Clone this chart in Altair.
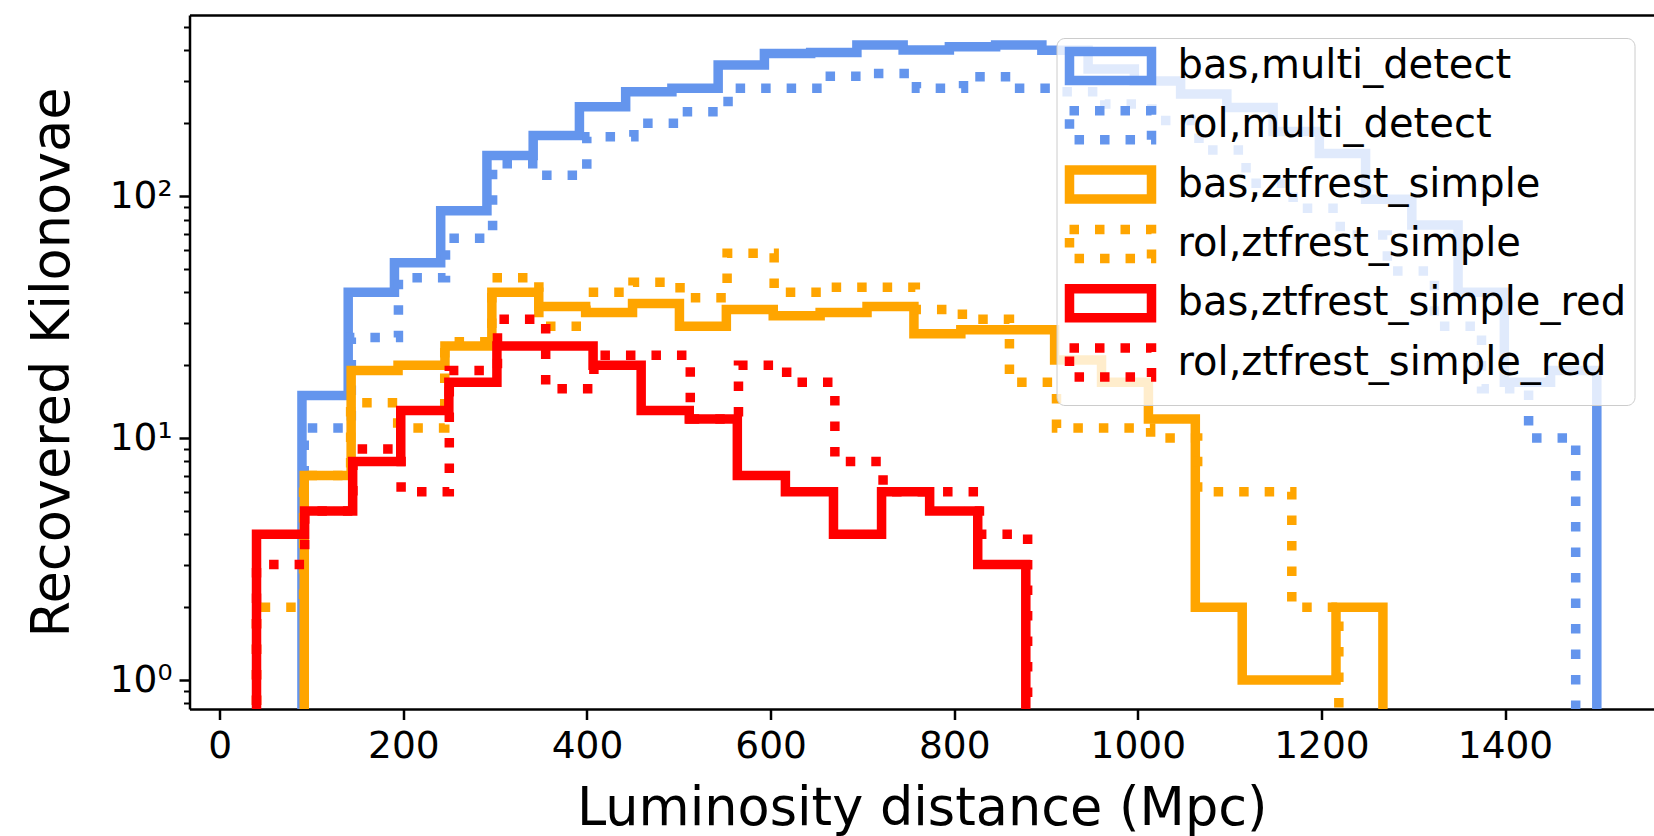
import altair as alt
import numpy as np
import pandas as pd

# ---- data ----
series_names = [
    "bas,multi_detect",
    "rol,multi_detect",
    "bas,ztfrest_simple",
    "rol,ztfrest_simple",
    "bas,ztfrest_simple_red",
    "rol,ztfrest_simple_red",
]
series_colors = ["#6495ED", "#6495ED", "#FFA500", "#FFA500", "#FF0000", "#FF0000"]

# first and last bin edge (Mpc) of each histogram
bin_lo = [89.5, 92.0, 92.0, 40.0, 40.0, 40.0]
bin_hi = [1500.0, 1477.0, 1267.0, 1219.0, 878.0, 880.0]

counts_bas_multi = [15, 40, 53, 87, 147, 178, 234, 270, 279, 348, 388, 392, 421, 401,
                    414, 421, 400, 335, 299, 264, 232, 185, 150, 97, 76, 40, 17, 19]
counts_rol_multi = [11, 26, 46, 67, 136, 122, 176, 200, 223, 279, 279, 313, 321, 279,
                    311, 279, 270, 240, 205, 155, 113, 89, 69, 49, 29, 16, 10]
counts_bas_ztf = [7, 19, 20, 24, 40, 35, 33, 36, 29, 34, 32, 33, 35, 27, 28, 28,
                  21, 17, 12, 2, 1, 1, 2]
counts_rol_ztf = [2, 7, 14, 11, 25, 46, 29, 40, 44, 38, 58, 40, 42, 42, 34, 31,
                  17, 11, 11, 10, 6, 6, 2]
counts_bas_red = [4, 5, 8, 13, 17, 24, 24, 20, 13, 12, 7, 6, 4, 6, 5, 3]
counts_rol_red = [3, 5, 9, 6, 19, 31, 16, 22, 22, 12, 20, 17, 8, 6, 6, 4]

all_counts = [counts_bas_multi, counts_rol_multi, counts_bas_ztf,
              counts_rol_ztf, counts_bas_red, counts_rol_red]

x_ticks = [0, 200, 400, 600, 800, 1000, 1200, 1400]
y_ticks = [0.8, 0.9, 1, 2, 3, 4, 5, 6, 7, 8, 9, 10, 20, 30, 40, 50, 60, 70, 80, 90,
           100, 200, 300, 400, 500]

BASE = 0.01  # step outline drops to the (log) floor, clipped by the axes

# ---- build step-histogram outlines (like matplotlib histtype='step') ----
rows = []
for name, lo, hi, cnt in zip(series_names, bin_lo, bin_hi, all_counts):
    edges = np.linspace(lo, hi, len(cnt) + 1)
    pts = [(edges[0], BASE)]
    for i, c in enumerate(cnt):
        pts.append((edges[i], c))
        pts.append((edges[i + 1], c))
    pts.append((edges[-1], BASE))
    for k, (xv, yv) in enumerate(pts):
        rows.append({"series": name, "x": float(xv), "y": float(yv), "order": k})
df = pd.DataFrame(rows)

FONT = "DejaVu Sans"
LW = 9.5
dashes = [[1, 0], [LW, 16], [1, 0], [LW, 16], [1, 0], [LW, 16]]

xscale = alt.Scale(domain=[-33, 1562.3], nice=False, zero=False)
yscale = alt.Scale(type="log", domain=[0.759, 560], nice=False)

legend = alt.Legend(
    title=None,
    orient="none",
    legendX=867,
    legendY=23,
    symbolType="M-5,-1.77H5V1.77H-5Z",
    symbolSize=269,
    symbolStrokeWidth=LW,
    symbolFillColor="transparent",
    symbolOffset=26,
    labelFont=FONT,
    labelFontSize=40,
    labelColor="black",
    labelOffset=47,
    labelLimit=0,
    rowPadding=-8.7,
    padding=8,
    fillColor="rgba(255,255,255,0.8)",
    strokeColor="#cccccc",
    cornerRadius=8,
)

is_major = "abs(log(datum.value)/LN10 - round(log(datum.value)/LN10)) < 1e-6"

lines = alt.Chart(df).mark_line(
    strokeWidth=LW, clip=True, strokeJoin="miter", strokeCap="butt"
).encode(
    x=alt.X(
        "x:Q",
        scale=xscale,
        axis=alt.Axis(
            values=x_ticks,
            title="Luminosity distance (Mpc)",
            labelFontSize=37.5,
            labelPadding=8,
            tickSize=10.5,
            tickWidth=2.5,
            titleFontSize=52.5,
            titlePadding=18,
            format="d",
        ),
    ),
    y=alt.Y(
        "y:Q",
        scale=yscale,
        axis=alt.Axis(
            values=y_ticks,
            labelExpr="datum.value == 1 ? '10⁰' : datum.value == 10 ? '10¹' : datum.value == 100 ? '10²' : ''",
            labelFontSize=37.5,
            labelPadding=7,
            tickSize={"condition": {"test": is_major, "value": 10.5}, "value": 6},
            tickWidth={"condition": {"test": is_major, "value": 2.5}, "value": 2},
            title="Recovered Kilonovae",
            titleFontSize=52.5,
            titlePadding=30,
        ),
    ),
    color=alt.Color("series:N", scale=alt.Scale(domain=series_names, range=series_colors), legend=legend),
    strokeDash=alt.StrokeDash("series:N", scale=alt.Scale(domain=series_names, range=dashes), legend=legend),
    order="order:Q",
)

top_spine = alt.Chart(df).mark_point(opacity=0).encode(
    x=alt.X(
        "x:Q",
        scale=xscale,
        axis=alt.Axis(orient="top", labels=False, ticks=False, title=None,
                      domainColor="black", domainWidth=2.5),
    )
)

chart = (
    alt.layer(lines, top_spine)
    .resolve_axis(x="independent")
    .properties(
        width=1464.5,
        height=694,
        autosize=alt.AutoSizeParams(type="none"),
        padding={"left": 189.5, "top": 15, "right": 0, "bottom": 127},
        background="white",
    )
    .configure_view(stroke=None)
    .configure_axis(
        grid=False,
        domainColor="black",
        domainWidth=2.5,
        tickColor="black",
        labelColor="black",
        titleColor="black",
        labelFont=FONT,
        titleFont=FONT,
        titleFontWeight="normal",
    )
)

chart.save("out.html", embed_options={"renderer": "svg", "actions": False})
